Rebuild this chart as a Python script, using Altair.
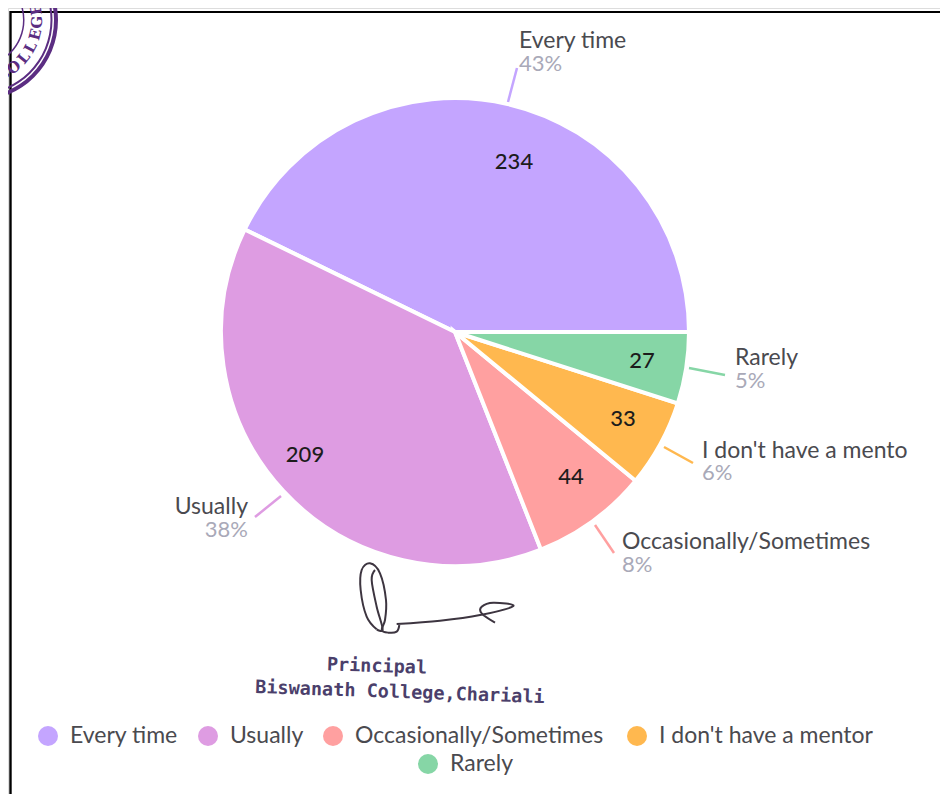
import math
import altair as alt
import pandas as pd

categories = ["Every time", "Usually", "Occasionally/Sometimes", "I don't have a mentor", "Rarely"]
counts = [234, 209, 44, 33, 27]
percents = ["43%", "38%", "8%", "6%", "5%"]
callouts = ["Every time", "Usually", "Occasionally/Sometimes", "I don't have a mento", "Rarely"]
colors = ["#C4A5FF", "#DE9CE2", "#FFA0A0", "#FFB84F", "#86D6A6"]

W, H = 932, 786
OFF = 8
FONT = "Lato"
TEXT = "#4a4a4f"
PCT = "#a9a9b8"
INK = "#5b2d82"


def X(f="x"):
    return alt.X(f"{f}:Q", scale=None, axis=None)


def Y(f="y"):
    return alt.Y(f"{f}:Q", scale=None, axis=None)


def texts(rows, **kw):
    df = pd.DataFrame(rows, columns=["t", "x", "y"])
    df["x"] -= OFF
    df["y"] -= OFF
    return alt.Chart(df).mark_text(baseline="middle", **kw).encode(x=X(), y=Y(), text="t:N")


def segment(x1, y1, x2, y2, color, width):
    df = pd.DataFrame({"x": [x1 - OFF], "y": [y1 - OFF], "x2": [x2 - OFF], "y2": [y2 - OFF]})
    return alt.Chart(df).mark_rule(color=color, strokeWidth=width).encode(
        x=X(), y=Y(), x2="x2:Q", y2="y2:Q"
    )


def stroke(points, width=2):
    df = pd.DataFrame(
        [{"i": i, "x": 240 + a / 3 - OFF, "y": 550 + b / 3 - OFF} for i, (a, b) in enumerate(points)]
    )
    return alt.Chart(df).mark_line(
        color="#3d3540", strokeWidth=width, interpolate="cardinal"
    ).encode(x=X(), y=Y(), order="i:Q")


def ring(r1, r2):
    return alt.Chart(pd.DataFrame({"a": [0]})).mark_arc(
        radius=r1, radius2=r2, theta=0, theta2=2 * math.pi, color=INK
    ).encode(x=alt.value(-23 - OFF), y=alt.value(20 - OFF))


pie_df = pd.DataFrame({"c": categories, "v": counts, "o": range(5)})
pie = alt.Chart(pie_df).mark_arc(
    outerRadius=234, stroke="white", strokeWidth=4
).encode(
    theta=alt.Theta("v:Q", stack=True, scale=alt.Scale(range=[math.pi / 2, -1.5 * math.pi])),
    color=alt.Color("c:N", scale=alt.Scale(domain=categories, range=colors), legend=None),
    order=alt.Order("o:Q"),
    x=alt.value(455 - OFF),
    y=alt.value(332 - OFF),
)

layers = [
    segment(10.5, 11, 10.5, 802, "#000000", 2.4),
    segment(10, 12, 948, 12, "#000000", 2),
    ring(81, 77),
    ring(75.5, 73.5),
    ring(47.5, 46),
]

# stamp lettering
letters = list("COLLEGE")
letter_angles = [64, 52, 39, 27, 14, 2, -10]
stamp_df = pd.DataFrame({
    "t": letters,
    "x": [-23 - OFF + 60 * math.cos(math.radians(a)) for a in letter_angles],
    "y": [20 - OFF + 60 * math.sin(math.radians(a)) for a in letter_angles],
    "r": [(a - 90) % 360 for a in letter_angles],
})
layers.append(
    alt.Chart(stamp_df).mark_text(font="DejaVu Serif", fontWeight="bold", fontSize=15, color=INK, baseline="middle").encode(
        x=X(), y=Y(), text="t:N", angle=alt.Angle("r:Q", scale=None)
    )
)

layers.append(pie)

# leader lines
layers += [
    segment(508, 102, 517, 68, colors[0], 2.5),
    segment(281, 496, 255, 517, colors[1], 2.5),
    segment(595, 525, 614, 553, colors[2], 2.5),
    segment(664, 447, 693, 463, colors[3], 2.5),
    segment(689, 368, 725, 375, colors[4], 2.5),
]

# slice values
layers.append(texts(
    [(str(counts[0]), 514, 162), (str(counts[1]), 305, 455), (str(counts[2]), 571, 477),
     (str(counts[3]), 623, 419), (str(counts[4]), 642, 361)],
    font=FONT, fontSize=22, fontWeight=500, color="#1c1c1c", align="center",
))

# callouts
left = [(callouts[0], 519, 41), (callouts[2], 622, 542), (callouts[3], 702, 451), (callouts[4], 735, 358)]
left_p = [(percents[0], 519, 64), (percents[2], 622, 565), (percents[3], 702, 473), (percents[4], 735, 381)]
layers.append(texts(left, font=FONT, fontSize=23, color=TEXT, align="left"))
layers.append(texts(left_p, font=FONT, fontSize=22, color=PCT, align="left"))
layers.append(texts([(callouts[1], 248, 507)], font=FONT, fontSize=23, color=TEXT, align="right"))
layers.append(texts([(percents[1], 248, 530)], font=FONT, fontSize=22, color=PCT, align="right"))

# legend
lx = [48, 208, 333, 637, 428]
ly = [736, 736, 736, 736, 764]
legend_df = pd.DataFrame({"c": categories, "x": [v - OFF for v in lx], "y": [v - OFF for v in ly]})
layers.append(
    alt.Chart(legend_df).mark_circle(size=400, opacity=1).encode(
        x=X(), y=Y(),
        color=alt.Color("c:N", scale=alt.Scale(domain=categories, range=colors), legend=None),
    )
)
layers.append(texts(
    [(c, x + 22, y) for c, x, y in zip(categories, lx, ly)],
    font=FONT, fontSize=23, color=TEXT, align="left",
))

# signature
layers.append(stroke([(410, 238), (380, 200), (362, 120), (365, 60), (390, 40), (420, 70), (438, 150),
                      (435, 210), (425, 240), (445, 248), (470, 245), (478, 225)]))
layers.append(stroke([(405, 60), (395, 90), (410, 170), (428, 238), (410, 238)]))
layers.append(stroke([(470, 222), (600, 212), (720, 195), (820, 168), (760, 158), (725, 170), (725, 190), (765, 218)]))

# caption under signature
layers.append(texts([("Principal", 377, 666)], font="DejaVu Sans Mono", fontSize=18.5, fontWeight="bold",
                    color="#4b3f6b", align="center", angle=2))
layers.append(texts([("Biswanath College,Chariali", 400, 692)], font="DejaVu Sans Mono", fontSize=18.5,
                    fontWeight="bold", color="#4b3f6b", align="center", angle=2))

chart = alt.layer(*layers).properties(
    width=W, height=H, padding=0, autosize=alt.AutoSizeParams(type="none")
).configure_view(stroke=None).configure(background="white")

chart.save("out.html", embed_options={"renderer": "svg", "actions": False})
